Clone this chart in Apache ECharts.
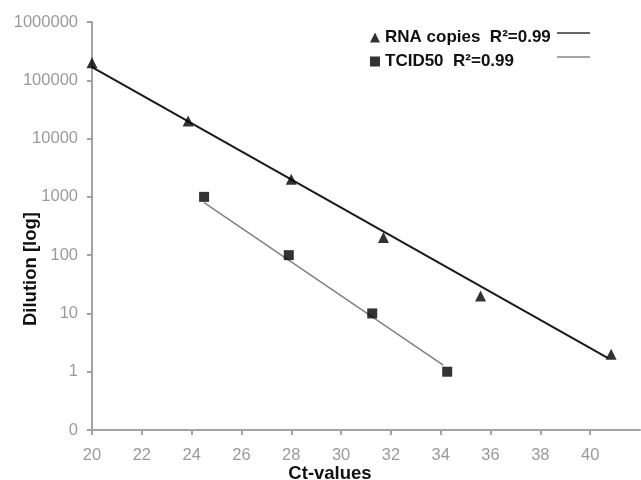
<!DOCTYPE html>
<html>
<head>
<meta charset="utf-8">
<script src="https://cdn.jsdelivr.net/npm/echarts@6/dist/echarts.min.js"></script>
<style>
  html, body { margin: 0; padding: 0; background: #fff; }
  #chart { width: 641px; height: 480px; }
</style>
</head>
<body>
<div id="chart"></div>
<script>
// measured points (Ct value, dilution)
var rnaCt = [20, 23.86, 28.0, 31.7, 35.6, 40.84]
var rnaDilution = [200000, 20000, 2000, 200, 20, 2]
var tcidCt = [24.5, 27.9, 31.25, 34.26]
var tcidDilution = [1000, 100, 10, 1]

// ends of the regression lines
var rnaFitCt = [20, 40.7]
var rnaFitDilution = [168000, 1.72]
var tcidFitCt = [24.5, 34.1]
var tcidFitDilution = [800, 1.3]

var xTicks = { min: 20, max: 42, interval: 2 }
var yTicks = { min: 0.1, max: 1000000 }

function pairs (xs, ys) {
  return xs.map(function (x, i) { return [x, ys[i]] })
}

var axisGray = '#a3a3a3'
var labelGray = '#9a9a9a'
var font = 'Liberation Sans, Arial, sans-serif'

var chart = echarts.init(document.getElementById('chart'))
var option = {
  backgroundColor: '#fff',
  animation: false,
  grid: {
    left: 92,
    right: 1,
    top: 22,
    bottom: 50,
    containLabel: false,
    outerBoundsMode: 'none'
  },
  legend: {
    orient: 'vertical',
    left: 365,
    top: 24,
    itemWidth: 10,
    itemHeight: 10,
    itemGap: 7,
    data: [
      { name: 'RNA copies  R²=0.99', icon: 'triangle' },
      { name: 'TCID50  R²=0.99', icon: 'rect' }
    ],
    textStyle: { fontFamily: font, fontSize: 17, fontWeight: 'bold', color: '#111' }
  },
  graphic: [
    { type: 'line', shape: { x1: 557, y1: 33, x2: 590, y2: 33 }, style: { stroke: '#333', lineWidth: 1.5 } },
    { type: 'line', shape: { x1: 557, y1: 57, x2: 590, y2: 57 }, style: { stroke: '#888', lineWidth: 1.5 } }
  ],
  xAxis: {
    type: 'value',
    min: xTicks.min,
    max: xTicks.max,
    interval: xTicks.interval,
    name: 'Ct-values',
    nameLocation: 'middle',
    nameGap: 34,
    nameMoveOverlap: false,
    nameTextStyle: { fontFamily: font, fontSize: 18.5, fontWeight: 'bold', color: '#111', padding: [0, 72, 0, 0] },
    splitLine: { show: false },
    axisLine: { lineStyle: { color: axisGray, width: 2 } },
    axisTick: { show: true, length: 5, lineStyle: { color: axisGray, width: 2 } },
    axisLabel: { showMaxLabel: false, margin: 17, fontFamily: font, fontSize: 16.5, color: labelGray }
  },
  yAxis: {
    type: 'log',
    logBase: 10,
    min: yTicks.min,
    max: yTicks.max,
    name: 'Dilution [log]',
    nameLocation: 'middle',
    nameGap: 52,
    nameMoveOverlap: false,
    nameTextStyle: { fontFamily: font, fontSize: 18.5, fontWeight: 'bold', color: '#111', padding: [0, 86, 0, 0] },
    splitLine: { show: false },
    axisLine: { show: true, lineStyle: { color: axisGray, width: 2 } },
    axisTick: { show: true, length: 5, lineStyle: { color: axisGray, width: 2 } },
    axisLabel: {
      margin: 14,
      fontFamily: font,
      fontSize: 16.5,
      color: labelGray,
      formatter: function (v) { return v < 0.5 ? '0' : String(Math.round(v)) }
    }
  },
  series: [
    {
      name: 'RNA fit',
      type: 'line',
      data: pairs(rnaFitCt, rnaFitDilution),
      showSymbol: false,
      lineStyle: { color: '#1a1a1a', width: 2 },
      z: 2
    },
    {
      name: 'TCID50 fit',
      type: 'line',
      data: pairs(tcidFitCt, tcidFitDilution),
      showSymbol: false,
      lineStyle: { color: '#808080', width: 1.5 },
      z: 2
    },
    {
      name: 'RNA copies  R²=0.99',
      type: 'scatter',
      data: pairs(rnaCt, rnaDilution),
      symbol: 'triangle',
      symbolSize: 11,
      itemStyle: { color: '#000' },
      z: 3
    },
    {
      name: 'TCID50  R²=0.99',
      type: 'scatter',
      data: pairs(tcidCt, tcidDilution),
      symbol: 'rect',
      symbolSize: 10,
      itemStyle: { color: '#000' },
      z: 3
    }
  ]
}
chart.setOption(option)
</script>
</body>
</html>
